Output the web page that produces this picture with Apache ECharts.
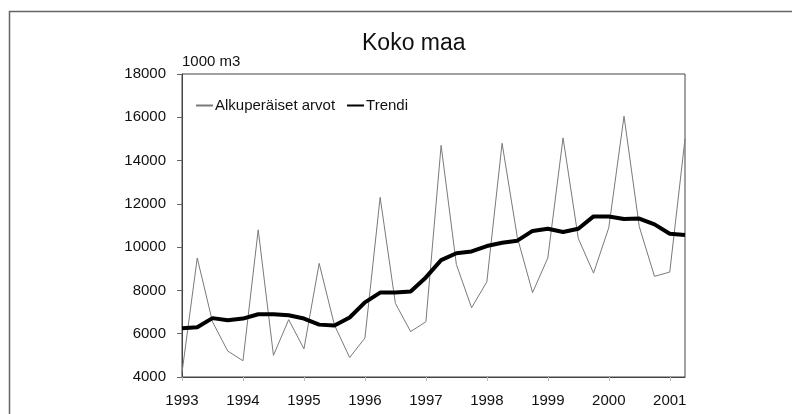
<!DOCTYPE html>
<html>
<head>
<meta charset="utf-8">
<script src="https://cdn.jsdelivr.net/npm/echarts@6/dist/echarts.min.js"></script>
<style>
html,body{margin:0;padding:0;background:#fff;}
#c{width:792px;height:414px;}
</style>
</head>
<body>
<div id="c"></div>
<script>
const quarters = [
  '1993 Q1','1993 Q2','1993 Q3','1993 Q4',
  '1994 Q1','1994 Q2','1994 Q3','1994 Q4',
  '1995 Q1','1995 Q2','1995 Q3','1995 Q4',
  '1996 Q1','1996 Q2','1996 Q3','1996 Q4',
  '1997 Q1','1997 Q2','1997 Q3','1997 Q4',
  '1998 Q1','1998 Q2','1998 Q3','1998 Q4',
  '1999 Q1','1999 Q2','1999 Q3','1999 Q4',
  '2000 Q1','2000 Q2','2000 Q3','2000 Q4',
  '2001 Q1','2001 Q2'
];
const original = [
  4200, 9500, 6550, 5200,
  4750, 10800, 5000, 6650,
  5300, 9250, 6400, 4900,
  5800, 12300, 7400, 6100,
  6550, 14700, 9200, 7200,
  8400, 14800, 10450, 7900,
  9500, 15050, 10400, 8800,
  10900, 16050, 10950, 8650,
  8850, 15000
];
const trend = [
  6250, 6300, 6720, 6620,
  6700, 6900, 6900, 6850,
  6700, 6420, 6380, 6750,
  7450, 7900, 7900, 7950,
  8600, 9400, 9720, 9800,
  10050, 10200, 10300, 10750,
  10850, 10700, 10850, 11420,
  11420, 11300, 11320, 11050,
  10620, 10560
];
const seriesNames = ['Alkuperäiset arvot', 'Trendi'];
const titleText = 'Koko maa';
const unitText = '1000 m3';

const chart = echarts.init(document.getElementById('c'), null, {renderer:'canvas'});
const font = 'Liberation Sans, Arial, sans-serif';
chart.setOption({
  animation: false,
  backgroundColor: '#fff',
  title: {
    text: titleText,
    left: 357, top: 27,
    textStyle: {fontFamily: font, fontSize: 23, fontWeight: 'normal', color: '#111'}
  },
  graphic: [{
    type: 'rect', left: 7, top: 9,
    shape: {width: 820, height: 420},
    style: {fill: 'none', stroke: '#666', lineWidth: 1.5},
    silent: true
  }],
  legend: {
    left: 190, top: 93,
    itemWidth: 17, itemHeight: 14, itemGap: 11,
    itemStyle: {opacity: 0},
    textStyle: {fontFamily: font, fontSize: 15, color: '#111', padding: [0,0,0,-3]},
    data: seriesNames
  },
  grid: {left: 182, right: 107, top: 74, bottom: 37, show: true, borderColor: '#444', borderWidth: 1, backgroundColor: 'transparent'},
  xAxis: {
    type: 'category', boundaryGap: false, data: quarters,
    axisLine: {show: true, lineStyle: {color: '#444', width: 1}},
    axisTick: {show: true, interval: function(i){return i % 4 === 0;}, length: 4, inside: false, lineStyle: {color: '#bbb'}},
    axisLabel: {
      interval: function(i){return i % 4 === 0;},
      formatter: function(v){return v.slice(0,4);},
      fontFamily: font, fontSize: 15, color: '#111', margin: 16
    },
    splitLine: {show: false}
  },
  yAxis: {
    type: 'value', min: 4000, max: 18000, interval: 2000,
    name: unitText, nameLocation: 'end', nameGap: 5,
    nameTextStyle: {fontFamily: font, fontSize: 15, color: '#111', align: 'left', verticalAlign: 'bottom'},
    axisLine: {show: true, lineStyle: {color: '#444', width: 1}},
    axisTick: {show: true, length: 5, lineStyle: {color: '#666'}},
    axisLabel: {fontFamily: font, fontSize: 15, color: '#111', margin: 16, formatter: function(v){return String(v);}},
    splitLine: {show: false}
  },
  series: [
    {
      name: seriesNames[0], type: 'line', data: original,
      symbol: 'none', lineStyle: {color: '#7a7a7a', width: 1}, itemStyle: {color: '#7a7a7a'}, z: 2
    },
    {
      name: seriesNames[1], type: 'line', data: trend,
      symbol: 'none', lineStyle: {color: '#000', width: 4}, itemStyle: {color: '#000'}, z: 3
    }
  ]
});
</script>
</body>
</html>
